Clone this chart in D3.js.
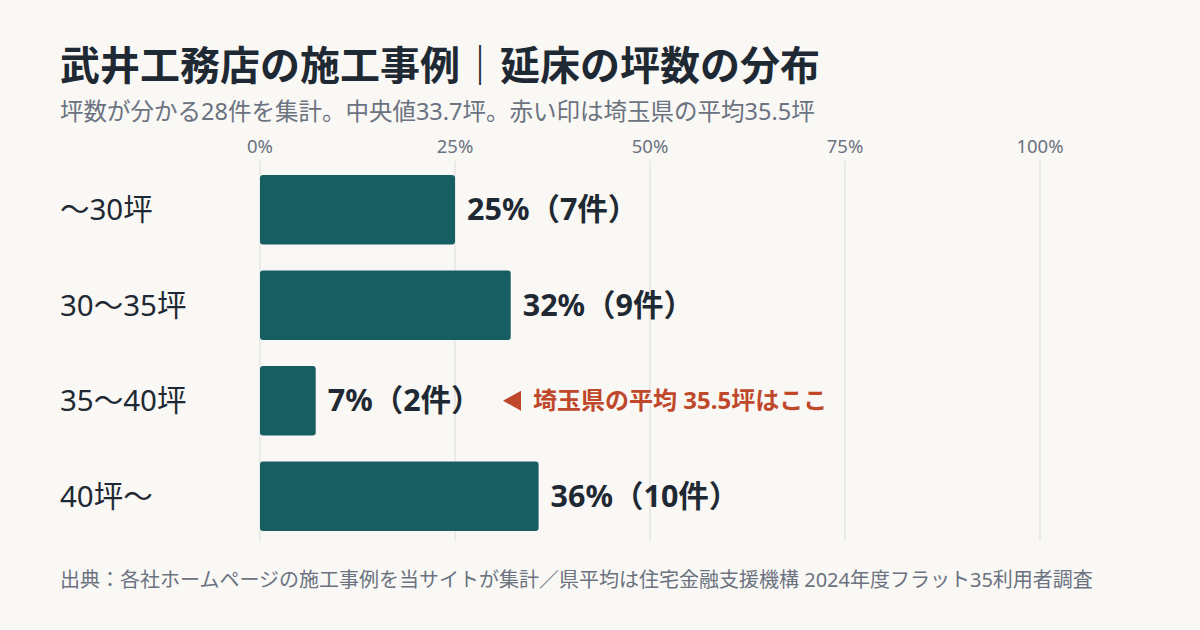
<!DOCTYPE html>
<html lang="ja">
<head>
<meta charset="utf-8">
<script src="https://cdn.jsdelivr.net/npm/d3@7"></script>
<style>
  html, body { margin: 0; padding: 0; background: #f9f8f5; }
  svg { display: block; font-family: "Noto Sans", "Noto Sans CJK JP", sans-serif; }
</style>
</head>
<body>
<svg id="svg" width="1200" height="630"></svg>
<script>
// DATA
const categories = ["〜30坪", "30〜35坪", "35〜40坪", "40坪〜"];
const counts = [7, 9, 2, 10];
const total = 28;
const ticks = [0, 25, 50, 75, 100];
const avgCategory = "35〜40坪";
const avgLabel = "埼玉県の平均 35.5坪はここ";

const W = 1200, H = 630;
const svg = d3.select("#svg");

svg.append("rect").attr("width", W).attr("height", H).attr("fill", "#f9f8f5");

const x = d3.scaleLinear().domain([0, 100]).range([260, 1040]);
const y = d3.scaleBand().domain(categories).range([161, 545]).paddingInner(26 / 96).paddingOuter(14 / 96);

// title
svg.append("text")
  .attr("x", 60).attr("y", 80)
  .attr("font-size", 40).attr("font-weight", 700).attr("fill", "#1f2933")
  .text("武井工務店の施工事例｜延床の坪数の分布");

svg.append("text")
  .attr("x", 60).attr("y", 120)
  .attr("font-size", 23.5).attr("fill", "#6b7280")
  .text("坪数が分かる28件を集計。中央値33.7坪。赤い印は埼玉県の平均35.5坪");

// grid + tick labels
const grid = svg.append("g");
grid.selectAll("line")
  .data(ticks)
  .enter()
  .append("line")
  .attr("x1", d => x(d)).attr("x2", d => x(d))
  .attr("y1", 161).attr("y2", 541)
  .attr("stroke", "#dcdcd8").attr("stroke-width", 1);

grid.selectAll("text")
  .data(ticks)
  .enter()
  .append("text")
  .attr("x", d => x(d)).attr("y", 153)
  .attr("text-anchor", "middle")
  .attr("font-size", 18.5).attr("fill", "#6b7280")
  .text(d => d + "%");

// category labels
svg.append("g")
  .selectAll("text")
  .data(categories)
  .enter()
  .append("text")
  .attr("x", 60)
  .attr("y", d => y(d) + y.bandwidth() / 2)
  .attr("dy", "0.35em")
  .attr("font-size", 29.5).attr("fill", "#1f2933")
  .text(d => d);

// bars
const rows = categories.map((c, i) => ({ cat: c, n: counts[i], pct: counts[i] / total * 100 }));

svg.append("g")
  .selectAll("rect")
  .data(rows)
  .enter()
  .append("rect")
  .attr("x", x(0))
  .attr("y", d => y(d.cat))
  .attr("width", d => x(d.pct) - x(0))
  .attr("height", y.bandwidth())
  .attr("rx", 3)
  .attr("fill", "#175e63");

// value labels
svg.append("g")
  .selectAll("text")
  .data(rows)
  .enter()
  .append("text")
  .attr("x", d => x(d.pct) + 12)
  .attr("y", d => y(d.cat) + y.bandwidth() / 2)
  .attr("dy", "0.35em")
  .attr("font-size", 30.5).attr("font-weight", 700).attr("fill", "#1f2933")
  .text(d => `${Math.round(d.pct)}%（${d.n}件）`);

// avg annotation
const ay = y(avgCategory) + y.bandwidth() / 2;
svg.append("path")
  .attr("d", `M503,${ay} L521,${ay - 10} L521,${ay + 10} Z`)
  .attr("fill", "#c0482a");
svg.append("text")
  .attr("x", 533).attr("y", ay)
  .attr("dy", "0.35em")
  .attr("font-size", 24).attr("font-weight", 700).attr("fill", "#c0482a")
  .text(avgLabel);

// footer
svg.append("text")
  .attr("x", 60).attr("y", 587)
  .attr("font-size", 20).attr("fill", "#6b7280")
  .text("出典：各社ホームページの施工事例を当サイトが集計／県平均は住宅金融支援機構 2024年度フラット35利用者調査");
</script>
</body>
</html>
